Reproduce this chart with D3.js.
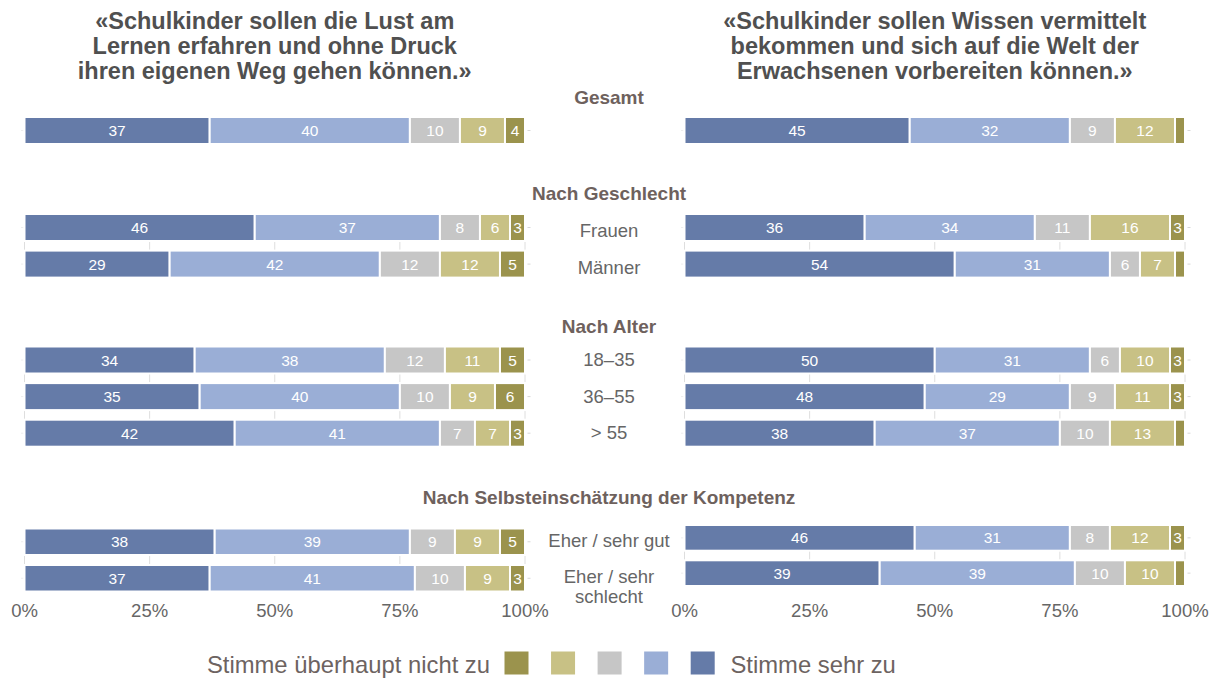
<!DOCTYPE html>
<html><head><meta charset="utf-8">
<script src="https://cdn.jsdelivr.net/npm/d3@7"></script>
<style>
html,body{margin:0;padding:0;background:#fff;}
svg text{font-family:"Liberation Sans",Arial,Helvetica,sans-serif;}
</style></head>
<body>
<script>
// ---------- DATA ----------
const titles = [
  ["«Schulkinder sollen die Lust am", "Lernen erfahren und ohne Druck", "ihren eigenen Weg gehen können.»"],
  ["«Schulkinder sollen Wissen vermittelt", "bekommen und sich auf die Welt der", "Erwachsenen vorbereiten können.»"]
];
const facetNames = ["Gesamt", "Nach Geschlecht", "Nach Alter", "Nach Selbsteinschätzung der Kompetenz"];
const facetRows = [
  ["Gesamt"],
  ["Frauen", "Männer"],
  ["18–35", "36–55", "> 55"],
  ["Eher / sehr gut", "Eher / sehr schlecht"]
];
const rowLabelLines = {
  "Frauen": ["Frauen"], "Männer": ["Männer"],
  "18–35": ["18–35"], "36–55": ["36–55"], "> 55": ["> 55"],
  "Eher / sehr gut": ["Eher / sehr gut"], "Eher / sehr schlecht": ["Eher / sehr", "schlecht"]
};
// answer categories, order of stacking from left (0%) to right (100%)
const answers = ["Stimme sehr zu", "Stimme eher zu", "Weder noch", "Stimme eher nicht zu", "Stimme überhaupt nicht zu"];
const colors = ["#657ba8", "#9aaed6", "#c6c6c6", "#c8c185", "#9b934d"];
// values in percent, one array per row, in order of answers
const leftValues = {
  "Gesamt": [37, 40, 10, 9, 4],
  "Frauen": [46, 37, 8, 6, 3],
  "Männer": [29, 42, 12, 12, 5],
  "18–35": [34, 38, 12, 11, 5],
  "36–55": [35, 40, 10, 9, 6],
  "> 55": [42, 41, 7, 7, 3],
  "Eher / sehr gut": [38, 39, 9, 9, 5],
  "Eher / sehr schlecht": [37, 41, 10, 9, 3]
};
const rightValues = {
  "Gesamt": [45, 32, 9, 12, 2],
  "Frauen": [36, 34, 11, 16, 3],
  "Männer": [54, 31, 6, 7, 2],
  "18–35": [50, 31, 6, 10, 3],
  "36–55": [48, 29, 9, 11, 3],
  "> 55": [38, 37, 10, 13, 2],
  "Eher / sehr gut": [46, 31, 8, 12, 3],
  "Eher / sehr schlecht": [39, 39, 10, 10, 2]
};
const xTicks = [0, 25, 50, 75, 100];
const legendLeft = "Stimme überhaupt nicht zu";
const legendRight = "Stimme sehr zu";

// ---------- LAYOUT ----------
const W = 1218, H = 679;
const svg = d3.select("body").append("svg").attr("width", W).attr("height", H);

const panels = [
  {values: leftValues, x: d3.scaleLinear().domain([0, 100]).range([24.5, 525]),
   tops: [117, 214, 346.5, 528.5], steps: [36.6, 36.6, 36.6, 36.5], bws: [27, 27, 27, 26.5]},
  {values: rightValues, x: d3.scaleLinear().domain([0, 100]).range([684.5, 1185]),
   tops: [117, 214, 346.5, 525], steps: [36.6, 36.6, 36.6, 35.3], bws: [27, 27, 27, 25.7]}
];
const headerBaselines = [103.5, 200, 333, 503.5];
const labelOffsets = [0, 10.5, 7, 6];
const midX = 609;

const txtGray = "#666666";
const brown = "#6e615d";

panels.forEach((p, pi) => {
  const g = svg.append("g");
  // title
  const cx = (p.x.range()[0] + p.x.range()[1]) / 2;
  g.append("text").attr("x", cx).attr("text-anchor", "middle")
    .attr("font-size", 23.5).attr("font-weight", "bold").attr("fill", "#505050")
    .selectAll("tspan").data(titles[pi]).join("tspan")
    .attr("x", cx).attr("y", (d, i) => 29 + i * 25).text(d => d);

  p.yScales = [];
  facetRows.forEach((rows, fi) => {
    const n = rows.length;
    const top = p.tops[fi];
    const step = p.steps[fi], bw = p.bws[fi];
    const bottom = top + (n - 1) * step + bw;
    const y = d3.scaleBand().domain(rows).range([top, bottom])
      .paddingInner(n > 1 ? (step - bw) / step : 0).paddingOuter(0);
    p.yScales.push(y);
    const fg = g.append("g");
    // gridlines
    fg.selectAll("line.grid").data(xTicks).join("line")
      .attr("x1", d => p.x(d)).attr("x2", d => p.x(d))
      .attr("y1", top).attr("y2", bottom)
      .attr("stroke", "#dedede").attr("stroke-width", 1);
    // y ticks on both sides
    rows.forEach(r => {
      const yc = y(r) + y.bandwidth() / 2;
      fg.append("line").attr("x1", p.x.range()[1] + 2.5).attr("x2", p.x.range()[1] + 5.5)
        .attr("y1", yc).attr("y2", yc).attr("stroke", "#d8d8d8");
      fg.append("line").attr("x1", p.x.range()[0] - 3.5).attr("x2", p.x.range()[0] - 1)
        .attr("y1", yc).attr("y2", yc).attr("stroke", "#eeeeee");
    });
    // stacked bars
    rows.forEach(r => {
      const vals = p.values[r];
      let acc = 0;
      const segs = vals.map((v, i) => { const s = {v, i, x0: acc, x1: acc + v}; acc += v; return s; });
      const rg = fg.append("g");
      rg.selectAll("rect").data(segs).join("rect")
        .attr("x", d => p.x(d.x0)).attr("width", d => p.x(d.x1) - p.x(d.x0))
        .attr("y", y(r)).attr("height", y.bandwidth())
        .attr("fill", d => colors[d.i]).attr("stroke", "#ffffff").attr("stroke-width", 2);
      rg.selectAll("text").data(segs.filter(d => d.v >= 3)).join("text")
        .attr("x", d => p.x((d.x0 + d.x1) / 2)).attr("y", y(r) + y.bandwidth() / 2 + 5.5)
        .attr("text-anchor", "middle").attr("font-size", 15.5).attr("fill", "#ffffff")
        .text(d => d.v);
    });
  });
  // x axis labels
  g.selectAll("text.tick").data(xTicks).join("text").attr("class", "tick")
    .attr("x", d => p.x(d)).attr("y", 617).attr("text-anchor", "middle")
    .attr("font-size", 18.5).attr("fill", txtGray).text(d => d + "%");
});

// facet headers
svg.selectAll("text.facet").data(facetNames).join("text").attr("class", "facet")
  .attr("x", midX).attr("y", (d, i) => headerBaselines[i]).attr("text-anchor", "middle")
  .attr("font-size", 19).attr("font-weight", "bold").attr("fill", brown).text(d => d);

// row labels in the middle (aligned with left panel)
facetRows.forEach((rows, fi) => {
  if (fi === 0) return;
  const y = panels[0].yScales[fi];
  rows.forEach(r => {
    const lines = rowLabelLines[r];
    const yc = y(r) + y.bandwidth() / 2 + labelOffsets[fi];
    const t = svg.append("text").attr("text-anchor", "middle").attr("font-size", 18.5).attr("fill", txtGray);
    lines.forEach((l, li) => t.append("tspan").attr("x", midX).attr("y", yc - 1 + li * 20).text(l));
  });
});

// legend
const lg = svg.append("g");
const legX = d3.scalePoint().domain(d3.range(5)).range([504.5, 690.7]);
const legOrder = [4, 3, 2, 1, 0];
lg.selectAll("rect").data(legOrder).join("rect")
  .attr("x", (d, i) => legX(i)).attr("y", 651.5).attr("width", 24).attr("height", 23)
  .attr("fill", d => colors[d]);
lg.append("text").attr("x", 490).attr("y", 673).attr("text-anchor", "end")
  .attr("font-size", 23.8).attr("fill", "#6d6361").text(legendLeft);
lg.append("text").attr("x", 730.5).attr("y", 673).attr("text-anchor", "start")
  .attr("font-size", 23.8).attr("fill", "#6d6361").text(legendRight);
</script>
</body></html>
